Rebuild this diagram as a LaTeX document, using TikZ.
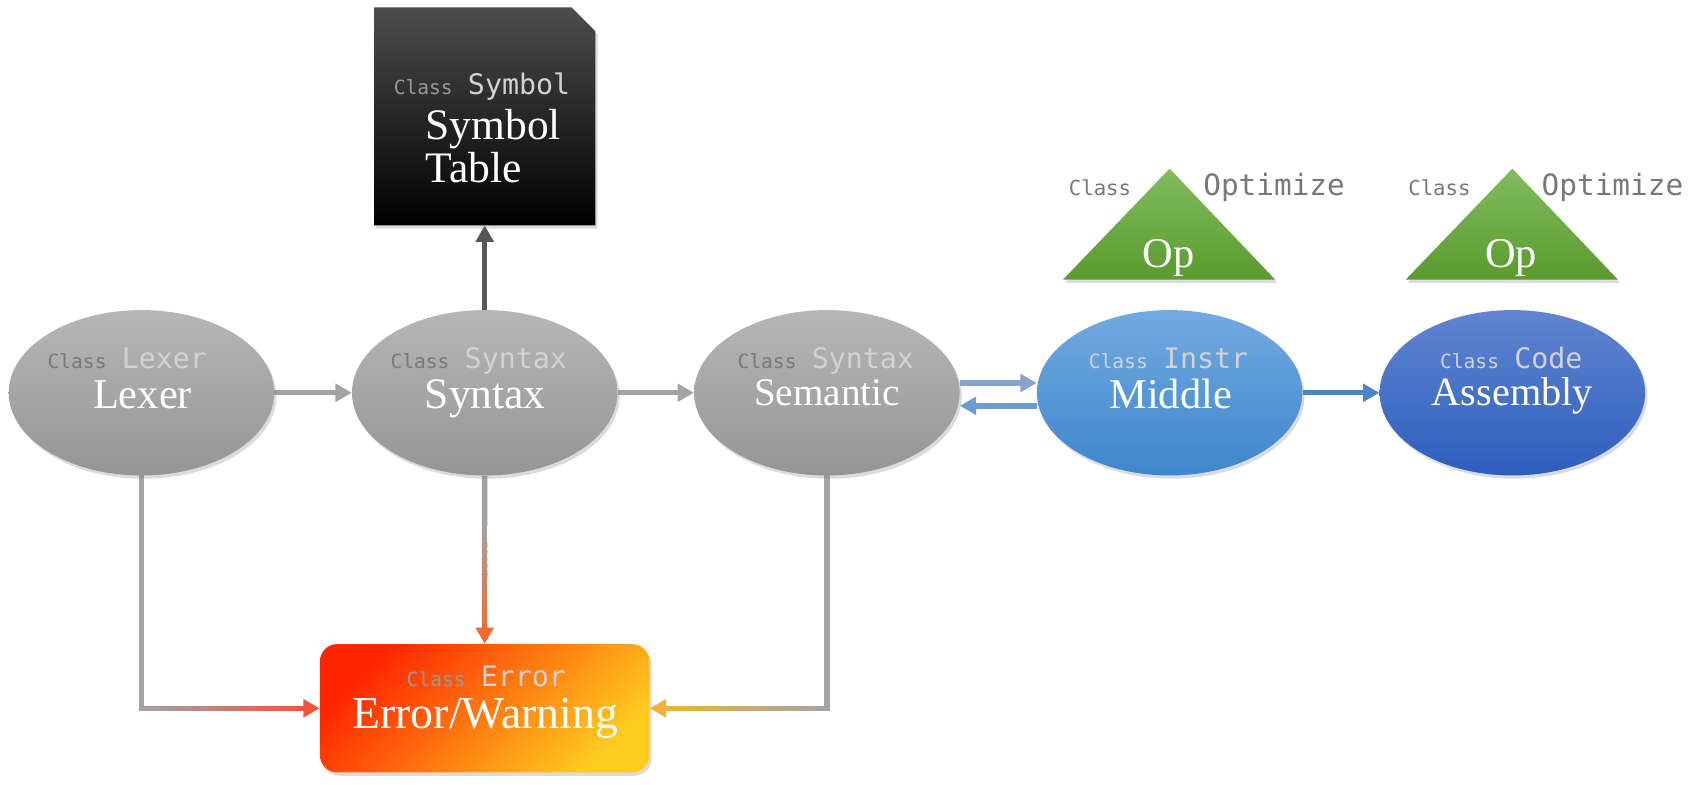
\documentclass[tikz,border=0pt]{standalone}
\usepackage{fontspec}
\setmainfont{Liberation Serif}
\newfontfamily\monof{DejaVu Sans Mono}
\usetikzlibrary{shapes.geometric,shadows,arrows.meta,calc,backgrounds}
\definecolor{gT}{HTML}{B6B6B6}
\definecolor{gB}{HTML}{959595}
\definecolor{mT}{HTML}{72AAE0}
\definecolor{mB}{HTML}{3E86CC}
\definecolor{aT}{HTML}{6085D0}
\definecolor{aB}{HTML}{2D5EBE}
\definecolor{trT}{HTML}{82BC5E}
\definecolor{trB}{HTML}{5A9A2E}
\definecolor{eR}{HTML}{FF2400}
\definecolor{eO}{HTML}{FF8414}
\definecolor{eY}{HTML}{FFCB20}
\definecolor{lgray}{HTML}{A3A3A3}
\definecolor{dgray}{HTML}{575757}
\definecolor{arrRed}{HTML}{F0553A}
\definecolor{arrOr}{HTML}{F26C32}
\definecolor{arrYe}{HTML}{F3B236}
\definecolor{bluA}{HTML}{85A3CB}
\definecolor{bluB}{HTML}{6C9DD7}
\definecolor{bluC}{HTML}{4A84CC}
\definecolor{clsD}{HTML}{787878}
\definecolor{clsL}{HTML}{D2D2D2}
\definecolor{clsM}{HTML}{999999}
\newcommand\clsline[3]{{\monof\fontsize{18}{20}\selectfont\color{#1}Class}\hspace{14pt}{\monof\fontsize{26}{30}\selectfont\color{#2}#3}}
\newcommand\gradline[5]{%
  \foreach \i in {1,...,#5}{%
    \pgfmathsetmacro\ta{(\i-1)/#5}%
    \pgfmathsetmacro\tb{min(1,(\i+0.4)/#5)}%
    \pgfmathsetmacro\pc{100*(\i-0.5)/#5}%
    \draw[line width=5pt, color=#4!\pc!#3] ($(#1)!\ta!(#2)$) -- ($(#1)!\tb!(#2)$);
  }}
\begin{document}
\begin{tikzpicture}[x=1pt,y=-1pt,
  shad/.style={drop shadow={shadow xshift=2pt,shadow yshift=-3pt,opacity=0.28}},
  ell/.style={ellipse, minimum width=244pt, minimum height=152pt, inner sep=0pt, shad},
  gell/.style={top color=gT, bottom color=gB},
  mainlbl/.style={text=white, inner sep=0pt, anchor=base},
  clslbl/.style={inner sep=0pt, anchor=base},
  conn/.style={line width=5pt},
  arr/.style={-{Triangle[length=15pt,width=16pt]}}
]
\useasboundingbox (0,0) rectangle (1568,721.5);

% ellipses
\node[ell, gell] (lexer) at (130,361) {};
\node[ell, gell] (syntax) at (445.5,361) {};
\node[ell, gell] (semantic) at (760,361) {};
\node[ell, top color=mT, bottom color=mB] (middle) at (1075,361) {};
\node[ell, top color=aT, bottom color=aB] (assembly) at (1390,361) {};

% symbol table (chamfered box)
\node[rectangle, minimum width=203pt, minimum height=200pt, inner sep=0pt] (symtab) at (445.5,107) {};
\shade[top color=black!70, middle color=black!97, bottom color=black, shad]
  (symtab.south west) -- (symtab.north west) -- ($(symtab.north east)+(-22,0)$)
  -- ($(symtab.north east)+(0,22)$) -- (symtab.south east) -- cycle;

% error box
\node[rectangle, rounded corners=16pt, minimum width=303pt, minimum height=118pt, inner sep=0pt,
      top color=eR, middle color=eO, bottom color=eY, shading angle=45, shad] (err) at (445.5,651) {};

% triangles
\shade[top color=trT, bottom color=trB, shad] (1075,155) -- (1172,257) -- (977,257) -- cycle;
\shade[top color=trT, bottom color=trB, shad] (1390,155) -- (1487,257) -- (1292,257) -- cycle;

% texts
\node[clslbl] (lexerC) at (117,339) {\clsline{clsD}{clsL}{Lexer}};
\node[mainlbl, font=\fontsize{39}{44}\selectfont] (lexerT) at (131,375) {Lexer};
\node[clslbl] (syntaxC) at (440,339) {\clsline{clsD}{clsL}{Syntax}};
\node[mainlbl, font=\fontsize{40}{44}\selectfont] (syntaxT) at (446,375) {Syntax};
\node[clslbl] (semanticC) at (759,339) {\clsline{clsD}{clsL}{Syntax}};
\node[mainlbl, font=\fontsize{36}{44}\selectfont] (semanticT) at (760,373) {Semantic};
\node[clslbl] (middleC) at (1074,339) {\clsline{clsL}{clsL}{Instr}};
\node[mainlbl, font=\fontsize{39}{44}\selectfont] (middleT) at (1076,375) {Middle};
\node[clslbl] (assemblyC) at (1389,339) {\clsline{clsL}{clsL}{Code}};
\node[mainlbl, font=\fontsize{37}{44}\selectfont] (assemblyT) at (1390,373) {Assembly};

\node[clslbl] (symC) at (443,87) {\clsline{clsM}{clsL}{Symbol}};
\node[mainlbl, anchor=base west, font=\fontsize{40}{44}\selectfont] (symT1) at (391,128) {Symbol};
\node[mainlbl, anchor=base west, font=\fontsize{40}{44}\selectfont] (symT2) at (391,168) {Table};

\node[clslbl] (errC) at (447,631) {\clsline{clsM}{clsL}{Error}};
\node[mainlbl, font=\fontsize{42}{44}\selectfont] (errT) at (446,670) {Error/Warning};

\node[clslbl, font=\monof\fontsize{19}{20}\selectfont, text=clsD] (op1C) at (1011,180) {Class};
\node[clslbl, font=\monof\fontsize{27}{30}\selectfont, text=clsD] (op1O) at (1171,180) {Optimize};
\node[mainlbl, font=\fontsize{39}{44}\selectfont] (op1T) at (1074,246) {Op};
\node[clslbl, font=\monof\fontsize{19}{20}\selectfont, text=clsD] (op2C) at (1323,180) {Class};
\node[clslbl, font=\monof\fontsize{27}{30}\selectfont, text=clsD] (op2O) at (1482,180) {Optimize};
\node[mainlbl, font=\fontsize{39}{44}\selectfont] (op2T) at (1389,246) {Op};

% connectors
\begin{scope}[on background layer]
\fill[white] (0,0) rectangle (1568,721.5);
\draw[conn, lgray, arr] (lexer) -- (syntax);
\draw[conn, lgray, arr] (syntax) -- (semantic);
\draw[conn, dgray, arr] (syntax) -- (symtab);
\draw[conn, bluA, arr] ([yshift=9pt]semantic.east) -- ([yshift=9pt]middle.west);
\draw[conn, bluB, arr] ([yshift=-12pt]middle.west) -- ([yshift=-12pt]semantic.east);
\draw[conn, bluC, arr] (middle) -- (assembly);

% lexer -> error
\coordinate (lc) at (lexer.south |- err.west);
\coordinate (le) at ($(err.west)+(-15,0)$);
\draw[conn, lgray, line cap=rect] (lexer.south) -- (lc);
\gradline{lc}{le}{lgray}{arrRed}{30}
\draw[conn, arrRed, arr] ($(err.west)+(-16,0)$) -- (err.west);

% syntax -> error
\coordinate (sm) at ($(syntax.south)!0.3!(err.north)$);
\coordinate (se) at ($(err.north)+(0,-15)$);
\draw[conn, lgray] (syntax.south) -- (sm);
\gradline{sm}{se}{lgray}{arrOr}{30}
\draw[conn, arrOr, arr] ($(err.north)+(0,-16)$) -- (err.north);

% semantic -> error
\coordinate (rc) at (semantic.south |- err.east);
\coordinate (re) at ($(err.east)+(15,0)$);
\draw[conn, lgray, line cap=rect] (semantic.south) -- (rc);
\gradline{rc}{re}{lgray}{arrYe}{30}
\draw[conn, arrYe, arr] ($(err.east)+(16,0)$) -- (err.east);
\end{scope}
\end{tikzpicture}
\end{document}
